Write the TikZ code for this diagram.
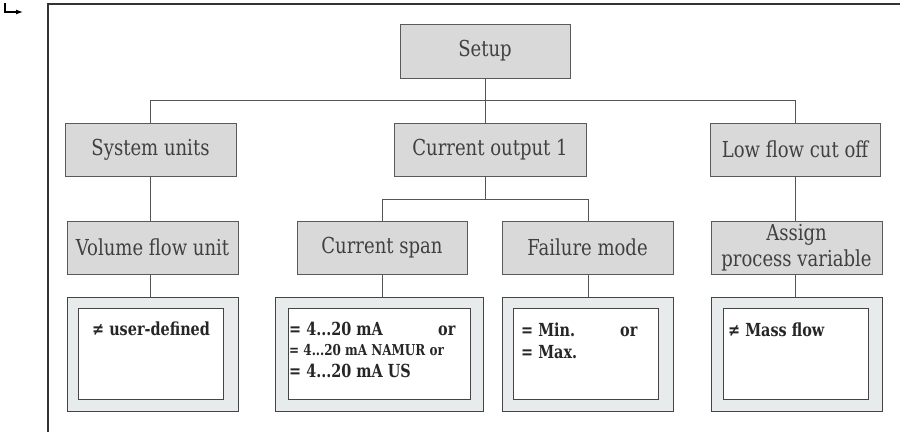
\documentclass[tikz,border=0pt]{standalone}
\usepackage{fontspec}
\setmainfont{DejaVu Serif}[FakeStretch=0.82, BoldFeatures={FakeStretch=0.8}]
\usetikzlibrary{arrows.meta}
\definecolor{lblfill}{HTML}{D9D9D9}
\definecolor{lblline}{HTML}{5A5A5A}
\definecolor{lbltext}{HTML}{404040}
\definecolor{valfill}{HTML}{E8EBEC}
\definecolor{valline}{HTML}{444444}
\definecolor{connline}{HTML}{555555}
\definecolor{framecol}{HTML}{333333}
\begin{document}
\begin{tikzpicture}[x=1pt,y=-1pt,
  lbl/.style={draw=lblline, fill=lblfill, line width=0.9pt, minimum width=171pt, minimum height=53pt, inner sep=0pt, font=\fontsize{22}{26}\selectfont, text=lbltext, align=center},
  outerv/.style={draw=valline, fill=valfill, line width=0.9pt, minimum width=171pt, minimum height=114pt, inner sep=0pt},
  innerv/.style={draw=valline, fill=white, line width=0.9pt, minimum width=145pt, minimum height=91pt, inner sep=0pt},
  vtxt/.style={font=\bfseries\fontsize{18}{21}\selectfont, anchor=base west, inner sep=0pt, text=black!85},
  vsmall/.style={font=\bfseries\fontsize{15}{18}\selectfont, anchor=base west, inner sep=0pt, text=black!85},
  conn/.style={draw=connline, line width=0.9pt}]
\useasboundingbox (0,0) rectangle (900,432);
% frame and marker
\draw[framecol, line width=1.5pt] (48,432) -- (48,4);
\draw[framecol, line width=2pt] (47.25,4) -- (900,4);
\coordinate (mk1) at (5,3);
\coordinate (mk2) at (5,12);
\coordinate (mk3) at (23,12);
\draw[black, line width=1.2pt, -{Latex[length=7pt,width=5pt]}] (mk1) -- (mk2) -- (mk3);

% label boxes
\node[lbl, minimum width=170pt, minimum height=54pt] (setup) at (485,51) {Setup};
\node[lbl] (sys) at (150.5,149.5) {System units};
\node[lbl, minimum width=192pt] (cur) at (490,149.5) {Current output 1};
\node[lbl, minimum width=170pt] (low) at (795,149.5) {Low flow cut off};
\node[lbl] (vol) at (152.5,247.5) {Volume flow unit};
\node[lbl, minimum width=170pt] (span) at (382,247.5) {Current span};
\node[lbl] (fail) at (587.5,247.5) {Failure mode};
\node[lbl] (assign) at (796.5,247.5) {Assign\\process variable};

% value boxes
\node[outerv] (volv) at (152.5,354) {};
\node[innerv] at (150.5,353.5) {};
\node[outerv, minimum width=208pt] (spanv) at (379,354) {};
\node[innerv, minimum width=182pt] at (379,353.5) {};
\node[outerv] (failv) at (587.5,354) {};
\node[innerv] at (585.5,353.5) {};
\node[outerv] (assignv) at (796.5,354) {};
\node[innerv] at (795.5,353.5) {};

% value texts
\node[vtxt] (t1) at (92,335) {≠ user-defined};
\node[vtxt] (t2) at (289,335) {= 4...20 mA};
\node[vtxt] (t2o) at (438,335) {or};
\node[vsmall] (t3) at (289,355) {= 4...20 mA NAMUR or};
\node[vtxt] (t4) at (289,377) {= 4...20 mA US};
\node[vtxt] (t5) at (521,336) {= Min.};
\node[vtxt] (t5o) at (620,336) {or};
\node[vtxt] (t6) at (521,358) {= Max.};
\node[vtxt] (t7) at (728,336) {≠ Mass flow};

% connectors
\coordinate (busL) at (150,100);
\coordinate (busR) at (795,100);
\draw[conn] (setup.south) -- (setup.south |- cur.north);
\draw[conn] (sys.north -| busL) -- (busL) -- (busR) -- (low.north -| busR);
\draw[conn] (sys.south -| busL) -- (vol.north -| busL);
\coordinate (sbL) at (382,199);
\coordinate (sbR) at (588,199);
\draw[conn] (setup.south |- cur.south) -- (setup.south |- sbL);
\draw[conn] (span.north -| sbL) -- (sbL) -- (sbR) -- (fail.north -| sbR);
\draw[conn] (low.south -| busR) -- (assign.north -| busR);
\draw[conn] (vol.south -| busL) -- (volv.north -| busL);
\draw[conn] (span.south -| sbL) -- (spanv.north -| sbL);
\draw[conn] (fail.south -| sbR) -- (failv.north -| sbR);
\draw[conn] (assign.south -| busR) -- (assignv.north -| busR);
\end{tikzpicture}
\end{document}
